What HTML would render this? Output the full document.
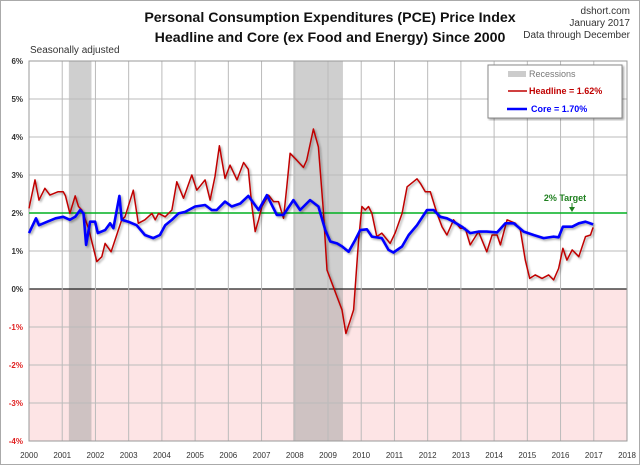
<!DOCTYPE html>
<html><head><meta charset="utf-8"><style>
body{margin:0;background:#fff;}
svg text{font-family:"Liberation Sans",sans-serif;}
</style></head><body>
<svg id="chart" width="640" height="465" viewBox="0 0 640 465" xmlns="http://www.w3.org/2000/svg">
<defs><filter id="sh" x="-5%" y="-5%" width="110%" height="110%"><feDropShadow dx="1.5" dy="1.5" stdDeviation="1" flood-color="#000" flood-opacity="0.35"/></filter></defs>
<rect x="0.5" y="0.5" width="639" height="464" fill="#fff" stroke="#aaa"/>
<text x="330" y="22" text-anchor="middle" font-size="14.2" font-weight="bold" fill="#111">Personal Consumption Expenditures (PCE) Price Index</text>
<text x="330" y="42" text-anchor="middle" font-size="14.2" font-weight="bold" fill="#111">Headline and Core (ex Food and Energy) Since 2000</text>
<text x="630" y="14" text-anchor="end" font-size="10" fill="#333">dshort.com</text>
<text x="630" y="26" text-anchor="end" font-size="10" fill="#333">January 2017</text>
<text x="630" y="38" text-anchor="end" font-size="10" fill="#333">Data through December</text>
<text x="30" y="53" font-size="10" fill="#333">Seasonally adjusted</text>
<g id="plot"></g>
</svg>
<script>
const yearTicks=[2000,2001,2002,2003,2004,2005,2006,2007,2008,2009,2010,2011,2012,2013,2014,2015,2016,2017,2018];
const pctTicks=[6,5,4,3,2,1,0,-1,-2,-3,-4];
const recessions=[[2001.2,2001.88],[2007.95,2009.45]];
const headDates=[2000.0,2000.18,2000.3,2000.48,2000.63,2000.88,2001.03,2001.1,2001.23,2001.39,2001.49,2001.59,2001.79,2002.04,2002.19,2002.29,2002.47,2002.64,2002.79,2002.89,2003.14,2003.29,2003.49,2003.7,2003.8,2003.9,2004.1,2004.3,2004.45,2004.65,2004.9,2005.05,2005.3,2005.45,2005.6,2005.73,2005.9,2006.05,2006.26,2006.46,2006.6,2006.7,2006.81,2006.91,2007.01,2007.21,2007.36,2007.51,2007.66,2007.76,2007.86,2008.06,2008.26,2008.36,2008.56,2008.71,2008.86,2008.97,2009.12,2009.27,2009.42,2009.54,2009.67,2009.77,2009.92,2010.02,2010.12,2010.22,2010.32,2010.47,2010.62,2010.87,2011.02,2011.23,2011.38,2011.68,2011.78,2011.93,2012.08,2012.28,2012.43,2012.58,2012.78,2012.98,2013.13,2013.28,2013.53,2013.78,2013.94,2014.09,2014.19,2014.39,2014.64,2014.79,2014.94,2015.07,2015.24,2015.44,2015.64,2015.79,2015.94,2016.07,2016.19,2016.35,2016.55,2016.75,2016.9,2016.98];
const headValues=[2.12,2.87,2.34,2.65,2.47,2.56,2.56,2.45,1.99,2.45,2.17,2.08,1.6,0.72,0.85,1.2,0.98,1.42,1.82,1.9,2.6,1.73,1.82,1.99,1.82,1.99,1.9,2.08,2.82,2.39,3.0,2.6,2.87,2.34,2.96,3.77,2.91,3.26,2.87,3.33,3.15,2.25,1.51,1.82,2.17,2.47,2.3,2.3,1.86,2.69,3.57,3.39,3.2,3.39,4.21,3.74,2.08,0.5,0.15,-0.2,-0.55,-1.17,-0.82,-0.55,1.29,2.17,2.08,2.17,1.99,1.38,1.47,1.2,1.47,1.99,2.69,2.9,2.78,2.56,2.56,1.99,1.64,1.42,1.82,1.6,1.6,1.16,1.51,0.98,1.42,1.42,1.16,1.82,1.73,1.55,0.76,0.28,0.37,0.28,0.37,0.24,0.54,1.07,0.76,1.03,0.85,1.38,1.42,1.62];
const coreDates=[2000.0,2000.21,2000.3,2000.55,2000.8,2001.03,2001.23,2001.39,2001.54,2001.64,2001.72,2001.84,2001.99,2002.07,2002.29,2002.44,2002.54,2002.72,2002.79,2002.99,2003.24,2003.49,2003.74,2003.94,2004.1,2004.3,2004.5,2004.7,2005.0,2005.3,2005.5,2005.65,2005.9,2006.1,2006.36,2006.6,2006.91,2007.16,2007.46,2007.66,2007.96,2008.16,2008.46,2008.71,2008.92,2009.07,2009.27,2009.42,2009.62,2009.82,2009.97,2010.17,2010.32,2010.62,2010.82,2010.97,2011.23,2011.43,2011.68,2011.98,2012.18,2012.38,2012.58,2012.78,2013.03,2013.28,2013.53,2013.78,2014.09,2014.34,2014.59,2014.89,2015.19,2015.49,2015.79,2015.94,2016.07,2016.35,2016.55,2016.75,2016.98];
const coreValues=[1.47,1.86,1.68,1.77,1.86,1.9,1.82,1.9,2.08,1.99,1.16,1.77,1.77,1.47,1.55,1.73,1.6,2.45,1.82,1.77,1.68,1.42,1.34,1.42,1.68,1.82,1.99,2.03,2.17,2.21,2.08,2.08,2.3,2.17,2.25,2.45,2.08,2.47,1.95,1.95,2.34,2.08,2.34,2.17,1.55,1.25,1.2,1.12,0.98,1.29,1.55,1.57,1.38,1.34,1.03,0.96,1.12,1.42,1.68,2.08,2.08,1.9,1.86,1.77,1.64,1.47,1.51,1.51,1.49,1.73,1.73,1.51,1.42,1.34,1.38,1.36,1.64,1.64,1.73,1.77,1.70];
const targetValue=2;

const X0=29,X1=627,Y0=61,Y1=441;
const xs=y=>X0+(y-2000)/(2018-2000)*(X1-X0);
const ys=v=>Y0+(6-v)/10*(Y1-Y0);
const NS='http://www.w3.org/2000/svg';
const g=document.getElementById('plot');
function mk(t,a,p){const e=document.createElementNS(NS,t);for(const k in a)e.setAttribute(k,a[k]);(p||g).appendChild(e);return e;}

let e=mk('rect',{x:X0,y:ys(0),width:X1-X0,height:Y1-ys(0),fill:'#fde4e5'});


recessions.forEach(r=>{const b=mk('rect',{x:xs(r[0]),y:Y0,width:xs(r[1])-xs(r[0]),height:Y1-Y0,fill:'#a0a0a0','fill-opacity':0.5});

});
pctTicks.forEach(v=>{const l=mk('line',{x1:X0,x2:X1,y1:ys(v),y2:ys(v),stroke:v===0?'#222':'#bbb','stroke-width':v===0?1.2:1});


const t=mk('text',{x:X0-6,y:ys(v)+3,'text-anchor':'end','font-size':8,'font-weight':'bold',fill:v<0?'#e02020':'#333'});t.textContent=v+'%';

});
yearTicks.forEach(y=>{const l=mk('line',{x1:xs(y),x2:xs(y),y1:Y0,y2:Y1,stroke:'#bbb'});


const t=mk('text',{x:xs(y),y:458,'text-anchor':'middle','font-size':8,fill:'#333'});t.textContent=y;

});
mk('rect',{x:X0,y:Y0,width:X1-X0,height:Y1-Y0,fill:'none',stroke:'#999'});
e=mk('line',{x1:X0,x2:X1,y1:ys(targetValue),y2:ys(targetValue),stroke:'#00b020','stroke-width':1.5});


function path(d,v){return d.map((x,i)=>(i?'L':'M')+xs(x).toFixed(1)+','+ys(v[i]).toFixed(1)).join('');}
e=mk('path',{d:path(headDates,headValues),fill:'none',stroke:'#c00000','stroke-width':1.5,filter:'url(#sh)','stroke-linejoin':'round'});


e=mk('path',{d:path(coreDates,coreValues),fill:'none',stroke:'#0000ff','stroke-width':2.6,filter:'url(#sh)','stroke-linejoin':'round'});


e=mk('text',{x:565,y:201,'text-anchor':'middle','font-size':9,'font-weight':'bold',fill:'#208020'});e.textContent='2% Target';


mk('line',{x1:572,x2:572,y1:203,y2:210,stroke:'#208020'});
mk('path',{d:'M569,207L575,207L572,212Z',fill:'#208020'});
// legend
const lg=mk('g',{});


mk('rect',{x:488,y:65,width:134,height:53,fill:'#fff',stroke:'#888',filter:'url(#sh)'},lg);
mk('rect',{x:508,y:71,width:18,height:6,fill:'#ccc'},lg);
let t=mk('text',{x:529,y:77,'font-size':9,fill:'#777'},lg);t.textContent='Recessions';


mk('line',{x1:508,x2:527,y1:91,y2:91,stroke:'#c00000','stroke-width':1.5},lg);
t=mk('text',{x:529,y:94,'font-size':9,'font-weight':'bold',fill:'#c00000'},lg);t.textContent='Headline = 1.62%';


mk('line',{x1:507,x2:527,y1:109,y2:109,stroke:'#0000ff','stroke-width':2.5},lg);
t=mk('text',{x:531,y:112,'font-size':9,'font-weight':'bold',fill:'#0000ff'},lg);t.textContent='Core = 1.70%';


</script>
</body></html>
